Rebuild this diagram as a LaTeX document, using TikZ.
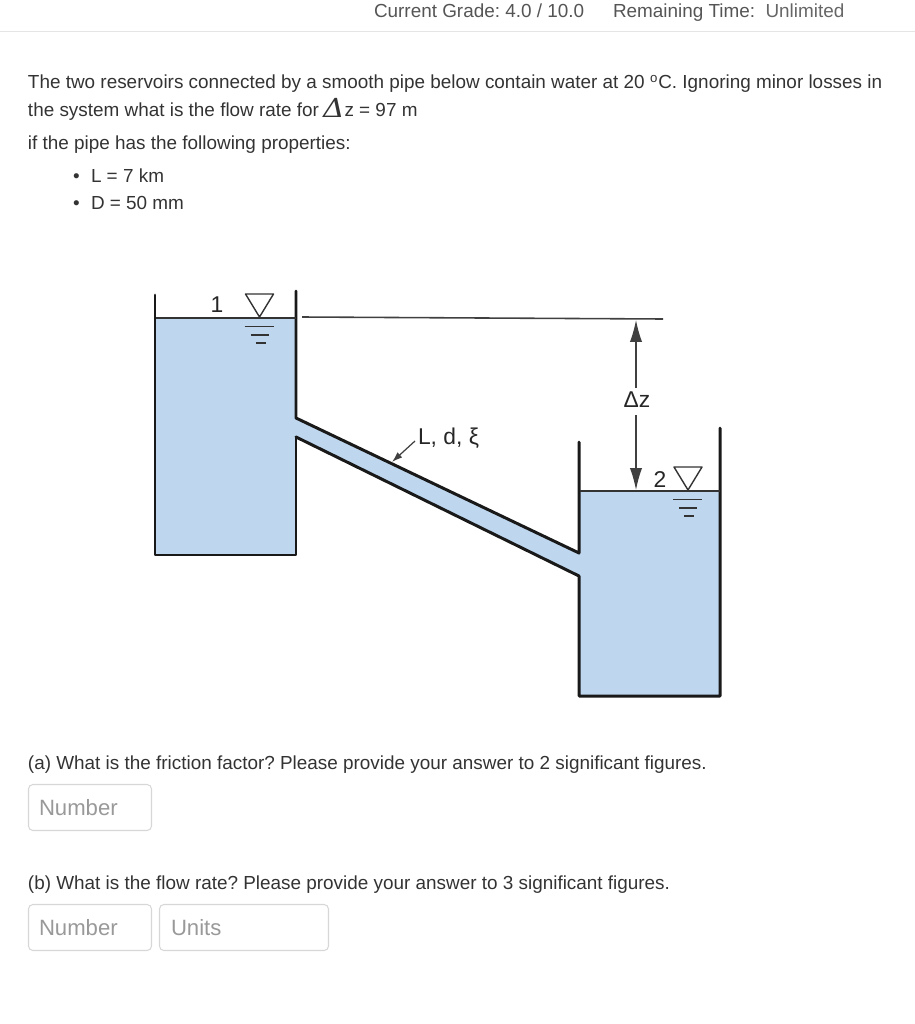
\documentclass[tikz,border=0pt]{standalone}
\usepackage{fontspec}
\setmainfont{Liberation Sans}
\usetikzlibrary{arrows.meta}
\definecolor{water}{RGB}{190,215,238}
\definecolor{inktext}{RGB}{51,51,51}
\definecolor{headtext}{RGB}{85,85,85}
\definecolor{hinttext}{RGB}{153,153,153}
\definecolor{fieldline}{RGB}{215,215,215}
\tikzset{
  txt/.style={anchor=base west, inner sep=0pt, outer sep=0pt, text=inktext, font=\fontsize{10.76pt}{12pt}\selectfont},
  lbl/.style={anchor=base, inner sep=0pt, outer sep=0pt, text=black!85, font=\fontsize{13pt}{14pt}\selectfont},
  hint/.style={anchor=base west, inner sep=0pt, outer sep=0pt, text=hinttext, font=\fontsize{12.6pt}{14pt}\selectfont},
  field/.style={draw=fieldline, line width=0.6pt, rounded corners=2.5pt, fill=white},
  wall/.style={line width=1.7pt, line cap=round, black!90},
  level/.style={line width=0.9pt, black!80},
  tick/.style={line width=0.8pt, black!80},
  dimline/.style={line width=0.7pt, black!75},
  dimtip/.style={-{Latex[length=12.5pt,width=7pt]}},
}
\begin{document}
\frenchspacing
\begin{tikzpicture}[x=0.02cm, y=-0.02cm, line join=round]
  \useasboundingbox (0,0) rectangle (915,1024);
  % page header
  \draw[black!10, line width=0.5pt] (0,31) -- (915,31);
  \node[txt, text=headtext] (grade) at (374,18) {Current Grade: 4.0 / 10.0};
  \node[txt, text=headtext] (timeleft) at (613,18) {Remaining Time:\hspace{0.55em}\textcolor{black!60}{Unlimited}};
  % question text
  \node[txt] (line1) at (28,89) {The two reservoirs connected by a smooth pipe below contain water at 20 $^{\mathrm{o}}$C. Ignoring minor losses in};
  \node[txt] (line2) at (28,116) {the system what is the flow rate for};
  \node[txt, font=\fontsize{13pt}{14pt}\selectfont\itshape, anchor=base east] (delta) at (344.5,117) {\scalebox{1.3}[1.15]{\fontspec{DejaVu Serif}Δ}};
  \node[txt] (line2b) at (344.5,116) {z = 97 m};
  \node[txt] (line3) at (28,150) {if the pipe has the following properties:};
  \node[txt] (bul1) at (73,182) {•};
  \node[txt] (prop1) at (91,182) {L = 7 km};
  \node[txt] (bul2) at (73,209) {•};
  \node[txt] (prop2) at (91,209) {D = 50 mm};
  % water and pipe
  \fill[water] (156,318) rectangle (296,555);
  \fill[water] (580,491) rectangle (720,696);
  \fill[water] (296,418) -- (580,553) -- (580,576) -- (296,437) -- cycle;
  \begin{scope}[wall]
    \draw (155,295) -- (155,555) -- (296,555) -- (296,437);
    \draw (296,437) -- (579,576) -- (579,696) -- (720,696) -- (720,428);
    \draw (296,291) -- (296,418) -- (579,553) -- (579,442);
  \end{scope}
  % levels
  \draw[level] (156,318) -- (296,318);
  \draw[level] (580,491) -- (720,491);
  \draw[dimline, line width=0.9pt] (302,317) -- (663,319);
  % free surface marks
  \foreach \sx/\sy in {259.5/318, 688/491} {
    \draw[tick, fill=white] (\sx-14,\sy-24) -- (\sx+14,\sy-24) -- (\sx,\sy-1) -- cycle;
    \draw[tick] (\sx-15,\sy+8.5) -- (\sx+14,\sy+8.5);
    \draw[tick] (\sx-9,\sy+17) -- (\sx+9,\sy+17);
    \draw[tick] (\sx-4,\sy+25) -- (\sx+6,\sy+25);
  }
  \node[lbl] (one) at (217,312) {1};
  \node[lbl] (two) at (660,487) {2};
  % height difference
  \node[lbl] (dz) at (637,407) {Δz};
  \coordinate (dztop) at (636,320);
  \coordinate (dzbot) at (636,490);
  \draw[dimline, dimtip] (636,388) -- (dztop);
  \draw[dimline, dimtip] (636,415) -- (dzbot);
  % pipe label
  \node[lbl, anchor=base west] (pipelbl) at (418,444) {L, d, ξ};
  \coordinate (pipept) at (392,462);
  \draw[dimline, -{Latex[length=6pt,width=4pt]}] (415,441) -- (pipept);
  % parts
  \node[txt] (parta) at (28,769) {(a) What is the friction factor? Please provide your answer to 2 significant figures.};
  \draw[field] (28.5,784.5) rectangle (151.5,830.5);
  \node[hint] (numa) at (39,815) {Number};
  \node[txt] (partb) at (28,889) {(b) What is the flow rate? Please provide your answer to 3 significant figures.};
  \draw[field] (28.5,904.5) rectangle (151.5,950.5);
  \node[hint] (numb) at (39,935) {Number};
  \draw[field] (159.5,904.5) rectangle (328.5,950.5);
  \node[hint] (units) at (171,935) {Units};
\end{tikzpicture}
\end{document}
